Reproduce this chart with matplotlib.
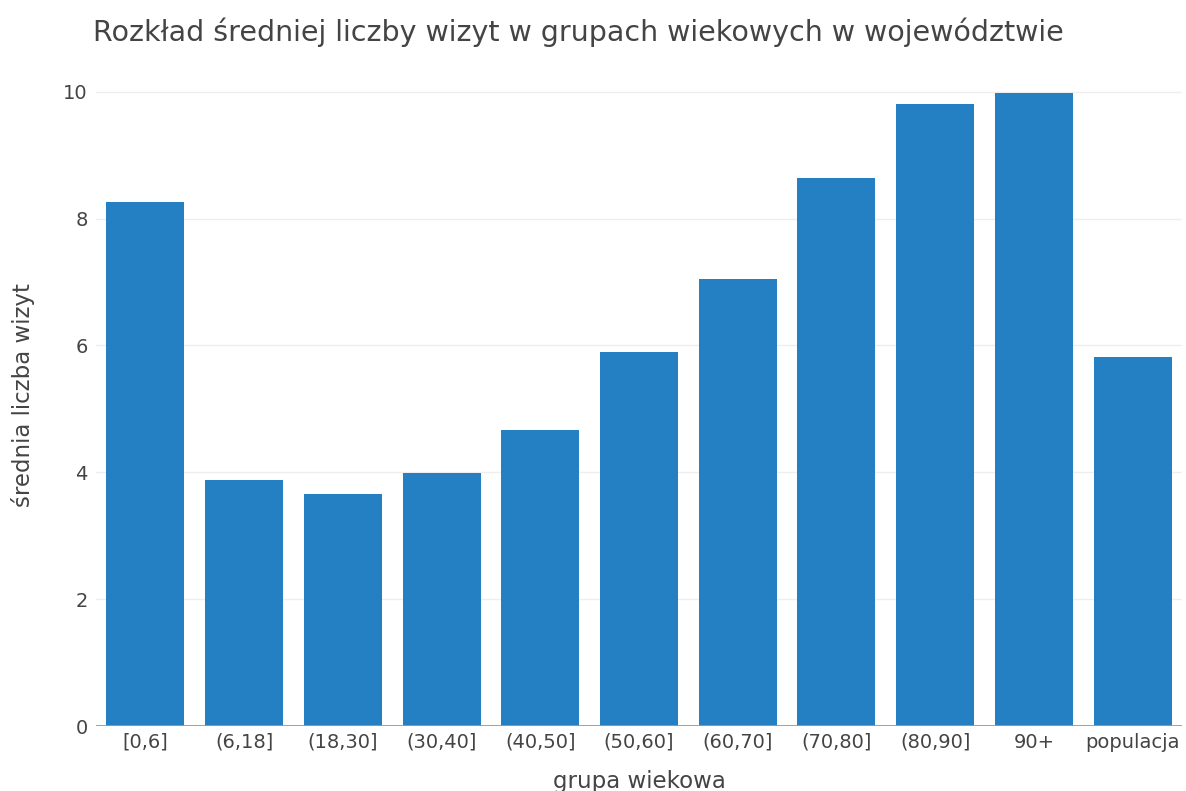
import matplotlib

matplotlib.use("Agg")
import matplotlib.pyplot as plt

# Mean number of visits per age group.
AGE_GROUPS = ["[0,6]", "(6,18]", "(18,30]", "(30,40]", "(40,50]", "(50,60]",
              "(60,70]", "(70,80]", "(80,90]", "90+", "populacja"]
MEAN_VISITS = [8.26, 3.88, 3.66, 3.99, 4.67, 5.90, 7.05, 8.64, 9.81, 9.98, 5.82]
Y_TICKS = [0, 2, 4, 6, 8, 10]

BAR_COLOR = "#2580c3"
TEXT_COLOR = "#444444"

plt.rcParams["font.family"] = ["DejaVu Sans"]

fig = plt.figure(figsize=(11.86, 7.91), dpi=100)
ax = fig.add_axes([96 / 1186, 65 / 791, (1182 - 96) / 1186, (726 - 65) / 791])

x = range(len(AGE_GROUPS))
ax.bar(x, MEAN_VISITS, width=0.79, color=BAR_COLOR, zorder=3)

ax.set_xlim(-0.5, len(AGE_GROUPS) - 0.5)
ax.set_ylim(0, 10.42)
ax.set_yticks(Y_TICKS)
ax.set_xticks(list(x))
ax.set_xticklabels(AGE_GROUPS)
ax.tick_params(axis="both", length=0, labelsize=14, colors=TEXT_COLOR)
ax.tick_params(axis="x", pad=5)
ax.tick_params(axis="y", pad=6)
ax.grid(axis="y", color="#eeeeee", linewidth=1, zorder=0)
ax.axhline(0, color="#999999", linewidth=2, zorder=4)
for side in ax.spines.values():
    side.set_visible(False)

ax.set_xlabel("grupa wiekowa", fontsize=16.5, color=TEXT_COLOR, labelpad=13)
ax.set_ylabel("średnia liczba wizyt", fontsize=16.5, color=TEXT_COLOR, labelpad=20)
fig.text(93 / 1186, 1 - 32 / 791, "Rozkład średniej liczby wizyt w grupach wiekowych w województwie",
         fontsize=20.5, color=TEXT_COLOR, va="center", ha="left")

fig.savefig("out.png", dpi=100, facecolor="white")
plt.close(fig)
